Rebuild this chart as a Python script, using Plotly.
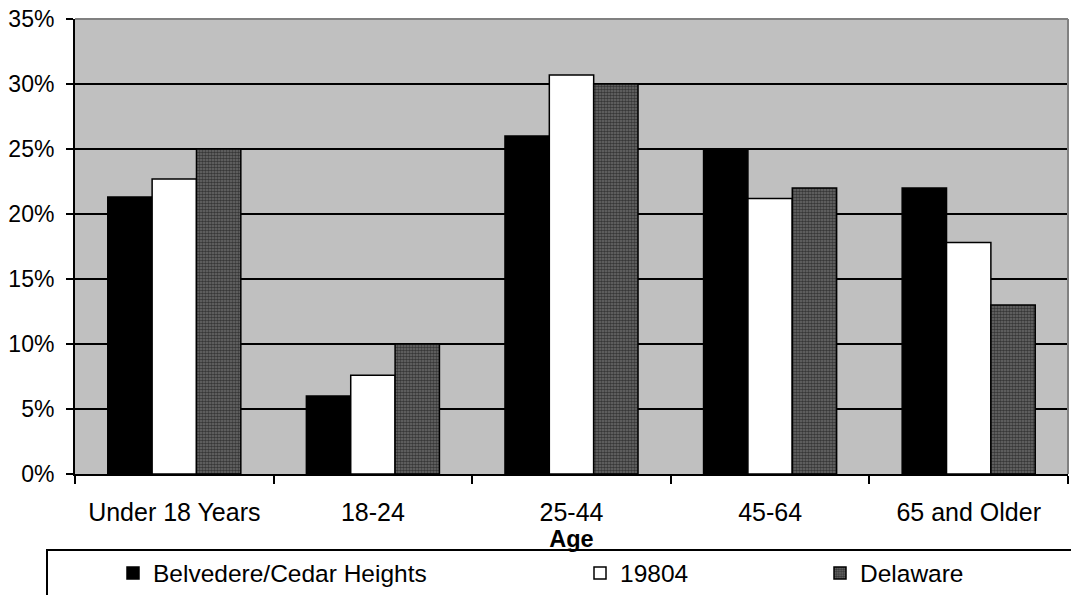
import plotly.graph_objects as go

categories = ["Under 18 Years", "18-24", "25-44", "45-64", "65 and Older"]
belvedere = [21.3, 6.0, 26.0, 25.0, 22.0]
zip_19804 = [22.7, 7.6, 30.7, 21.2, 17.8]
delaware = [25.0, 10.0, 30.0, 22.0, 13.0]
y_ticks = [0, 5, 10, 15, 20, 25, 30, 35]
y_tick_text = [f"{v}%" for v in y_ticks]

FONT = "Liberation Sans, Arial, sans-serif"
W, H = 1071, 595
ML, MR, MT, MB = 75, 3, 19, 121
PW, PH = W - ML - MR, H - MT - MB


def px_x(x):
    return (x - ML) / PW


def px_y(y):
    return (H - MB - y) / PH


fig = go.Figure()
fig.add_trace(go.Bar(
    x=categories, y=belvedere, name="Belvedere/Cedar Heights",
    marker=dict(color="#000000", line=dict(color="#000000", width=1.5)),
    legend="legend",
))
fig.add_trace(go.Bar(
    x=categories, y=zip_19804, name="19804",
    marker=dict(color="#ffffff", line=dict(color="#000000", width=1.5)),
    legend="legend2",
))
fig.add_trace(go.Bar(
    x=categories, y=delaware, name="Delaware",
    marker=dict(color="#606060", line=dict(color="#000000", width=1.5),
                pattern=dict(shape=".", fgcolor="#000000", bgcolor="#6e6e6e",
                             size=3, solidity=0.6)),
    legend="legend3",
))

legend_common = dict(
    orientation="h", yanchor="middle", xanchor="left",
    y=px_y(573), font=dict(family=FONT, size=24.5, color="#000000"),
    bgcolor="rgba(0,0,0,0)", borderwidth=0, itemwidth=30,
)

fig.update_layout(
    width=W, height=H,
    margin=dict(l=ML, r=MR, t=MT, b=MB, pad=0, autoexpand=False),
    paper_bgcolor="#ffffff",
    plot_bgcolor="#c0c0c0",
    barmode="group",
    bargap=0.33,
    bargroupgap=0,
    font=dict(family=FONT, size=23, color="#000000"),
    showlegend=True,
    legend=dict(x=px_x(113), **legend_common),
    legend2=dict(x=px_x(580), **legend_common),
    legend3=dict(x=px_x(820), **legend_common),
    xaxis=dict(
        type="category", automargin=False,
        showline=True, linecolor="#000000", linewidth=2,
        ticks="outside", tickson="boundaries", ticklen=8, tickwidth=2,
        tickcolor="#000000", ticklabelstandoff=15,
        tickfont=dict(family=FONT, size=25, color="#000000"),
        title=dict(text="<b>Age</b>", standoff=3,
                   font=dict(family=FONT, size=23.5, color="#000000")),
        showgrid=False,
    ),
    yaxis=dict(
        range=[0, 35], automargin=False,
        tickmode="array", tickvals=y_ticks, ticktext=y_tick_text,
        showline=True, linecolor="#000000", linewidth=2,
        ticks="outside", ticklen=7, tickwidth=2, tickcolor="#000000",
        ticklabelstandoff=7,
        tickfont=dict(family=FONT, size=23, color="#000000"),
        showgrid=True, gridcolor="#000000", gridwidth=2,
        zeroline=False,
    ),
    shapes=[
        # outer frame of the plot area (top and right edges)
        dict(type="line", xref="paper", yref="paper", x0=0, x1=1, y0=1, y1=1,
             line=dict(color="#808080", width=2)),
        dict(type="line", xref="paper", yref="paper", x0=1, x1=1, y0=0, y1=1,
             line=dict(color="#808080", width=2)),
        # legend frame
        dict(type="rect", xref="paper", yref="paper",
             x0=px_x(47), x1=px_x(1090), y0=px_y(610), y1=px_y(550),
             line=dict(color="#000000", width=2), fillcolor="rgba(0,0,0,0)"),
    ],
)

fig.write_html("out.html")
